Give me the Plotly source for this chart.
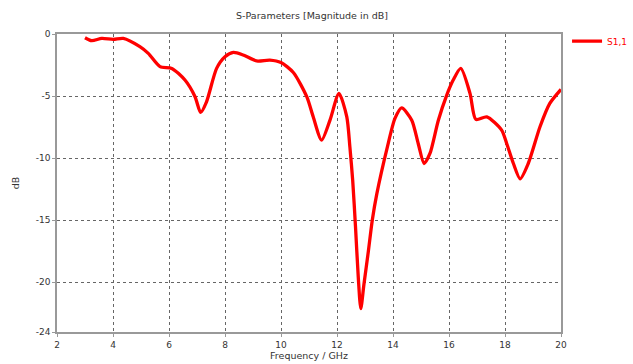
import plotly.graph_objects as go

freq_ghz = [3.0, 3.24, 3.6, 4.01, 4.37, 4.96, 5.26, 5.68, 6.1, 6.57, 6.93, 7.13, 7.34, 7.7, 8.0,
            8.3, 8.65, 9.13, 9.6, 10.0, 10.44, 10.92, 11.15, 11.45, 11.75, 12.07, 12.35, 12.46,
            12.56, 12.66, 12.76, 12.85, 12.96, 13.12, 13.26, 13.42, 13.8, 14.07, 14.31, 14.67,
            14.9, 15.11, 15.32, 15.62, 15.92, 16.15, 16.42, 16.75, 16.96, 17.35, 17.88, 18.06,
            18.3, 18.54, 18.83, 19.25, 19.6, 20.0]
s11_db = [-0.3, -0.54, -0.35, -0.43, -0.35, -1.02, -1.56, -2.63, -2.77, -3.71, -5.05, -6.32,
          -5.46, -2.77, -1.83, -1.48, -1.69, -2.17, -2.1, -2.3, -3.1, -5.05, -6.67, -8.55,
          -6.94, -4.78, -6.67, -9.09, -11.77, -15.5, -19.6, -22.12, -20.2, -17.5, -15.0,
          -12.9, -9.09, -6.8, -5.95, -6.94, -8.82, -10.43, -9.62, -6.94, -4.92, -3.71, -2.77,
          -4.78, -6.88, -6.67, -7.74, -8.82, -10.43, -11.66, -10.43, -7.47, -5.59, -4.46]

x_ticks = [2, 4, 6, 8, 10, 12, 14, 16, 18, 20]
y_ticks = [0, -5, -10, -15, -20, -24]
y_tick_text = ["0", "-5", "-10", "-15", "-20", "-24"]

font = "DejaVu Sans"

fig = go.Figure()
fig.add_trace(go.Scatter(
    x=freq_ghz, y=s11_db, mode="lines", name="S1,1",
    line=dict(color="#ff0000", width=3.3, shape="spline", smoothing=0.7),
))

fig.update_layout(
    width=633, height=364,
    margin=dict(l=57, r=72, t=34, b=32, autoexpand=False),
    paper_bgcolor="white", plot_bgcolor="white",
    font=dict(family=font, size=9, color="#333333"),
    title=dict(text="S-Parameters [Magnitude in dB]", x=312/633, xanchor="center",
               y=1 - 16/364, yanchor="middle", yref="container",
               font=dict(family=font, size=9.5, color="#333333")),
    showlegend=True,
    legend=dict(x=1.012, xanchor="left", y=1.025, yanchor="top", xref="paper",
                font=dict(family=font, size=9, color="#ff0000"),
                bgcolor="rgba(0,0,0,0)", itemwidth=30, tracegroupgap=0),
)

fig.update_xaxes(
    range=[2, 20], tickvals=x_ticks, showgrid=True, gridcolor="#666666",
    griddash="dot", gridwidth=1, zeroline=False, automargin=False,
    showline=True, linecolor="#999999", linewidth=1.5, mirror=True,
    ticks="outside", ticklen=3, tickcolor="#999999",
    tickfont=dict(family=font, size=9, color="#333333"),
    title=dict(text="Frequency / GHz", standoff=4, font=dict(family=font, size=9.5, color="#333333")),
)
fig.update_yaxes(
    range=[-24, 0], tickvals=y_ticks, ticktext=y_tick_text, showgrid=True,
    gridcolor="#666666", griddash="dot", gridwidth=1, zeroline=False, automargin=False,
    showline=True, linecolor="#999999", linewidth=1.5, mirror=True,
    ticks="outside", ticklen=3, tickcolor="#999999",
    tickfont=dict(family=font, size=9, color="#333333"),
    title=dict(text="dB", standoff=14, font=dict(family=font, size=9.5, color="#333333")),
)

fig.write_html("out.html")
